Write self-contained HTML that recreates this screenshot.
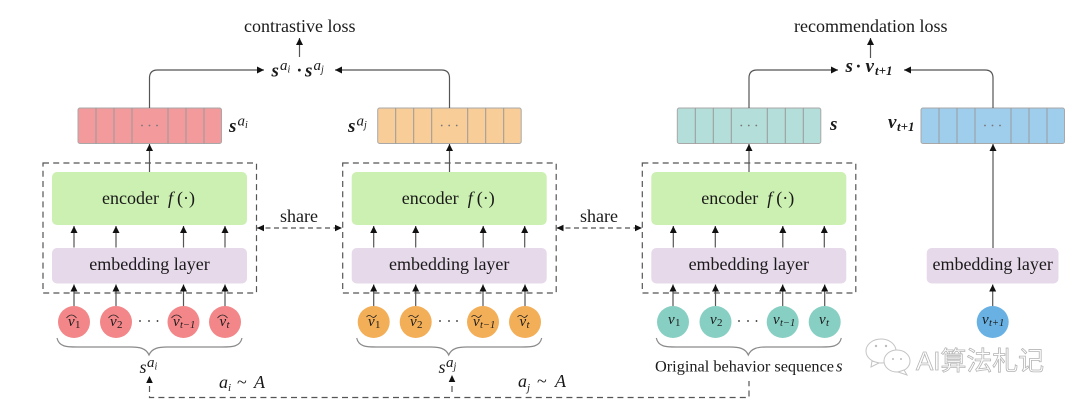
<!DOCTYPE html>
<html><head><meta charset="utf-8"><style>
html,body{margin:0;padding:0;background:#fff;width:1080px;height:406px;overflow:hidden}
svg{display:block}
text{font-family:"Liberation Serif","Noto Serif CJK SC",serif;fill:#1a1a1a}
.c{text-anchor:middle}
.b{font-weight:bold;font-style:italic}
.i{font-style:italic}
.ln{stroke:#555;stroke-width:1.2;fill:none}
.d{stroke:#555;stroke-width:1.2;fill:none;stroke-dasharray:6 4.2}
.t{stroke:#9a9a9a;stroke-width:1}
.bar{stroke:#a8a8a8;stroke-width:1}
.br{stroke:#8a8a8a;stroke-width:1.2;fill:none}
.hat{stroke:#222;stroke-width:.8;fill:none}
</style></head><body>
<svg width="1080" height="406" viewBox="0 0 1080 406" xmlns="http://www.w3.org/2000/svg">
<defs>
<marker id="a" markerUnits="userSpaceOnUse" markerWidth="8" markerHeight="8" refX="7" refY="3.5" orient="auto"><path d="M0 0L7 3.5L0 7Z" fill="#111"/></marker>
<path id="up" class="ln" marker-end="url(#a)" d="M0 21.500V0"/>
<g id="bar"><path class="t" d="M18 0V35.5M36 0V35.5M54 0V35.5M90 0V35.5M108 0V35.5M126 0V35.5"/><circle cx="64" cy="17.5" r=".9" fill="#777"/><circle cx="71.500" cy="17.5" r=".9" fill="#777"/><circle cx="79" cy="17.5" r=".9" fill="#777"/></g>
<g id="blk">
<rect x="9" y="9" width="195" height="53" rx="5" fill="#cbf0b1"/>
<rect x="9" y="85" width="195" height="35.500" rx="5" fill="#e6d9ea"/>
<use href="#up" x="31" y="63"/><use href="#up" x="73" y="63"/><use href="#up" x="140.500" y="63"/><use href="#up" x="182" y="63"/>
<rect x="0" y="0" width="213.500" height="130" class="d"/>
<text x="59" y="41" font-size="18">encoder</text>
<text x="125" y="41" font-size="18" class="i">f</text><text x="134" y="41" font-size="18">(·)</text>
<text class="c" x="106.500" y="107" font-size="18">embedding layer</text>
<path class="br" d="M14 175C16 184 24 184 34 184H88C96 184 103 185 106 192C109 185 116 184 124 184H179C189 184 197 184 199 175"/>
</g>
<path id="h" class="hat" d="M-5 0Q0 -6 5 0"/>
<path id="w" class="hat" d="M-5 -1Q-2.500 -4 0 -1.500T5 -3"/>
</defs>

<use href="#blk" x="43" y="163"/>
<use href="#blk" x="342.700" y="163"/>
<use href="#blk" x="642.300" y="163"/>

<rect class="bar" x="78" y="108" width="143.500" height="35.500" rx="2" fill="#f29a9c"/><use href="#bar" x="78" y="108"/>
<rect class="bar" x="377.700" y="108" width="143.500" height="35.500" rx="2" fill="#f8cd98"/><use href="#bar" x="377.700" y="108"/>
<rect class="bar" x="677.300" y="108" width="143.500" height="35.500" rx="2" fill="#b4ded9"/><use href="#bar" x="677.300" y="108"/>
<rect class="bar" x="921" y="108" width="143.500" height="35.500" rx="2" fill="#9fcdec"/><use href="#bar" x="921" y="108"/>

<path class="ln" marker-end="url(#a)" d="M149.500 108V78Q149.500 70 157.500 70H264"/>
<path class="ln" marker-end="url(#a)" d="M449.500 108V78Q449.500 70 441.500 70H335"/>
<path class="ln" marker-end="url(#a)" d="M749 108V78Q749 70 757 70H838"/>
<path class="ln" marker-end="url(#a)" d="M993 108V78Q993 70 985 70H904"/>
<path class="ln" marker-end="url(#a)" d="M299.500 57V38"/>
<path class="ln" marker-end="url(#a)" d="M870.500 58V38"/>
<path class="ln" marker-end="url(#a)" d="M149.500 172V144"/>
<path class="ln" marker-end="url(#a)" d="M449.500 172V144"/>
<path class="ln" marker-end="url(#a)" d="M749 172V144"/>
<path class="ln" marker-end="url(#a)" d="M993 248V144"/>

<path class="d" d="M257 228H342" style="stroke-dasharray:5 3.500"/>
<path class="d" d="M557 228H642" style="stroke-dasharray:5 3.500"/>
<path d="M257 228l7-3.200v6.400ZM342 228l-7-3.200v6.400ZM556.500 228l7-3.200v6.400ZM642 228l-7-3.200v6.400Z" fill="#111"/>

<path class="d" d="M149.500 386V397.500H749V381"/>
<path class="d" d="M452 392V383"/>
<path d="M149.500 376l-3.300 7h6.600ZM452 375l-3.300 7h6.600Z" fill="#111"/>

<rect x="926.700" y="248" width="131.800" height="35.500" rx="5" fill="#e6d9ea"/>
<text class="c" x="992.700" y="270" font-size="18">embedding layer</text>

<g fill="#f28689"><circle cx="74" cy="322" r="16"/><circle cx="116" cy="322" r="16"/><circle cx="183.500" cy="322" r="16"/><circle cx="225" cy="322" r="16"/></g>
<g fill="#f3ae58"><circle cx="373.700" cy="322" r="16"/><circle cx="415.700" cy="322" r="16"/><circle cx="483" cy="322" r="16"/><circle cx="525" cy="322" r="16"/></g>
<g fill="#88cfc3"><circle cx="673" cy="322" r="16"/><circle cx="715.500" cy="322" r="16"/><circle cx="782.700" cy="322" r="16"/><circle cx="824.700" cy="322" r="16"/></g>
<circle cx="992.700" cy="322" r="16" fill="#69b1e3"/>
<use href="#up" x="74" y="284.500"/><use href="#up" x="116" y="284.500"/><use href="#up" x="183.500" y="284.500"/><use href="#up" x="225" y="284.500"/>
<use href="#up" x="373.700" y="284.500"/><use href="#up" x="415.700" y="284.500"/><use href="#up" x="483" y="284.500"/><use href="#up" x="525" y="284.500"/>
<use href="#up" x="673" y="284.500"/><use href="#up" x="715.500" y="284.500"/><use href="#up" x="782.700" y="284.500"/><use href="#up" x="824.700" y="284.500"/>
<use href="#up" x="992.700" y="284.500"/>

<text x="68" y="326" class="i" font-size="15">v</text><text x="75" y="328" font-size="11">1</text>
<text x="110" y="326" class="i" font-size="15">v</text><text x="117" y="328" font-size="11">2</text>
<text x="173" y="326" class="i" font-size="15">v</text><text x="180" y="328" font-size="10.500" class="i">t−1</text>
<text x="219.500" y="326" class="i" font-size="15">v</text><text x="226.500" y="328" font-size="11" class="i">t</text>
<text x="368" y="326" class="i" font-size="15">v</text><text x="375" y="328" font-size="11">1</text>
<text x="410" y="326" class="i" font-size="15">v</text><text x="417" y="328" font-size="11">2</text>
<text x="473" y="326" class="i" font-size="15">v</text><text x="480" y="328" font-size="10.500" class="i">t−1</text>
<text x="519.500" y="326" class="i" font-size="15">v</text><text x="526.500" y="328" font-size="11" class="i">t</text>
<text x="668" y="324" class="i" font-size="15">v</text><text x="675" y="326" font-size="11">1</text>
<text x="710" y="324" class="i" font-size="15">v</text><text x="717" y="326" font-size="11">2</text>
<text x="773" y="324" class="i" font-size="15">v</text><text x="780" y="326" font-size="10.500" class="i">t−1</text>
<text x="819" y="324" class="i" font-size="15">v</text><text x="826" y="326" font-size="11" class="i">t</text>
<text x="982" y="324" class="i" font-size="15">v</text><text x="989" y="326" font-size="10.500" class="i">t+1</text>

<use href="#h" x="71.500" y="318"/><use href="#h" x="113.500" y="318"/><use href="#h" x="176.500" y="318"/><use href="#h" x="222.500" y="318"/>
<use href="#w" x="371.500" y="318"/><use href="#w" x="413.500" y="318"/><use href="#w" x="476.500" y="318"/><use href="#w" x="522.500" y="318"/>

<g fill="#222">
<circle cx="140" cy="321" r=".9"/><circle cx="149" cy="321" r=".9"/><circle cx="157.500" cy="321" r=".9"/>
<circle cx="440" cy="321" r=".9"/><circle cx="449" cy="321" r=".9"/><circle cx="457" cy="321" r=".9"/>
<circle cx="739" cy="321" r=".9"/><circle cx="748" cy="321" r=".9"/><circle cx="756.500" cy="321" r=".9"/>
</g>

<text x="244" y="32" font-size="18">contrastive loss</text>
<text x="794" y="32" font-size="18">recommendation loss</text>
<text x="280" y="222" font-size="18">share</text>
<text x="580" y="222" font-size="18">share</text>
<text x="655" y="371.500" font-size="16.300">Original behavior sequence</text><text x="836" y="371.500" font-size="17" class="i">s</text>

<text x="271.500" y="76.500" font-size="19" class="b">s</text><text x="280" y="70" font-size="15" class="i">a</text><text x="287.500" y="72.500" font-size="10" class="i">i</text>
<text x="297" y="76" font-size="18" class="b">·</text>
<text x="305" y="76.500" font-size="19" class="b">s</text><text x="313.500" y="70" font-size="15" class="i">a</text><text x="321" y="72.500" font-size="10" class="i">j</text>

<text x="229" y="132" font-size="19" class="b">s</text><text x="237.500" y="125.500" font-size="15" class="i">a</text><text x="245" y="128" font-size="10" class="i">i</text>
<text x="348" y="132" font-size="19" class="b">s</text><text x="356.500" y="125.500" font-size="15" class="i">a</text><text x="364" y="128" font-size="10" class="i">j</text>
<text x="830" y="130" font-size="19" class="b">s</text>
<text x="888" y="128" font-size="19" class="b">v</text><text x="897" y="131" font-size="13" class="b">t+1</text>

<text x="845.500" y="72" font-size="19" class="b">s</text><text x="856" y="72" font-size="18" class="b">·</text><text x="865.500" y="72" font-size="19" class="b">v</text><text x="875" y="75" font-size="13" class="b">t+1</text>

<text x="139.500" y="373" font-size="18" class="i">s</text><text x="147" y="367" font-size="15" class="i">a</text><text x="154.500" y="369.500" font-size="10" class="i">i</text>
<text x="438.500" y="373" font-size="18" class="i">s</text><text x="446" y="367" font-size="15" class="i">a</text><text x="453.500" y="369.500" font-size="10" class="i">j</text>

<text x="219" y="388" font-size="18" class="i">a</text><text x="228" y="391" font-size="11" class="i">i</text><text x="237" y="388" font-size="18">~</text><text x="254" y="388" font-size="18" class="i">A</text>
<text x="518" y="387" font-size="18" class="i">a</text><text x="527" y="391" font-size="11" class="i">j</text><text x="537" y="387" font-size="18">~</text><text x="555" y="387" font-size="18" class="i">A</text>

<g fill="#fff" stroke="#c4c4c4" stroke-width="1">
<ellipse cx="881" cy="351" rx="15" ry="12"/>
<path d="M872 361L871 367L879 363Z"/>
<ellipse cx="897" cy="361" rx="13" ry="11"/>
<path d="M904 370L907 375L898 372Z"/>
</g>
<g fill="#bcbcbc"><circle cx="876" cy="346" r="1.200"/><circle cx="886" cy="346" r="1.200"/><circle cx="893" cy="359" r="1"/><circle cx="901" cy="359" r="1"/></g>
<text x="916" y="370" font-size="26" style="font-family:'Liberation Sans','Noto Sans CJK SC',sans-serif;fill:#fff;stroke:#b5b5b5;stroke-width:.8" textLength="128" lengthAdjust="spacingAndGlyphs">AI算法札记</text>
</svg>
</body></html>
